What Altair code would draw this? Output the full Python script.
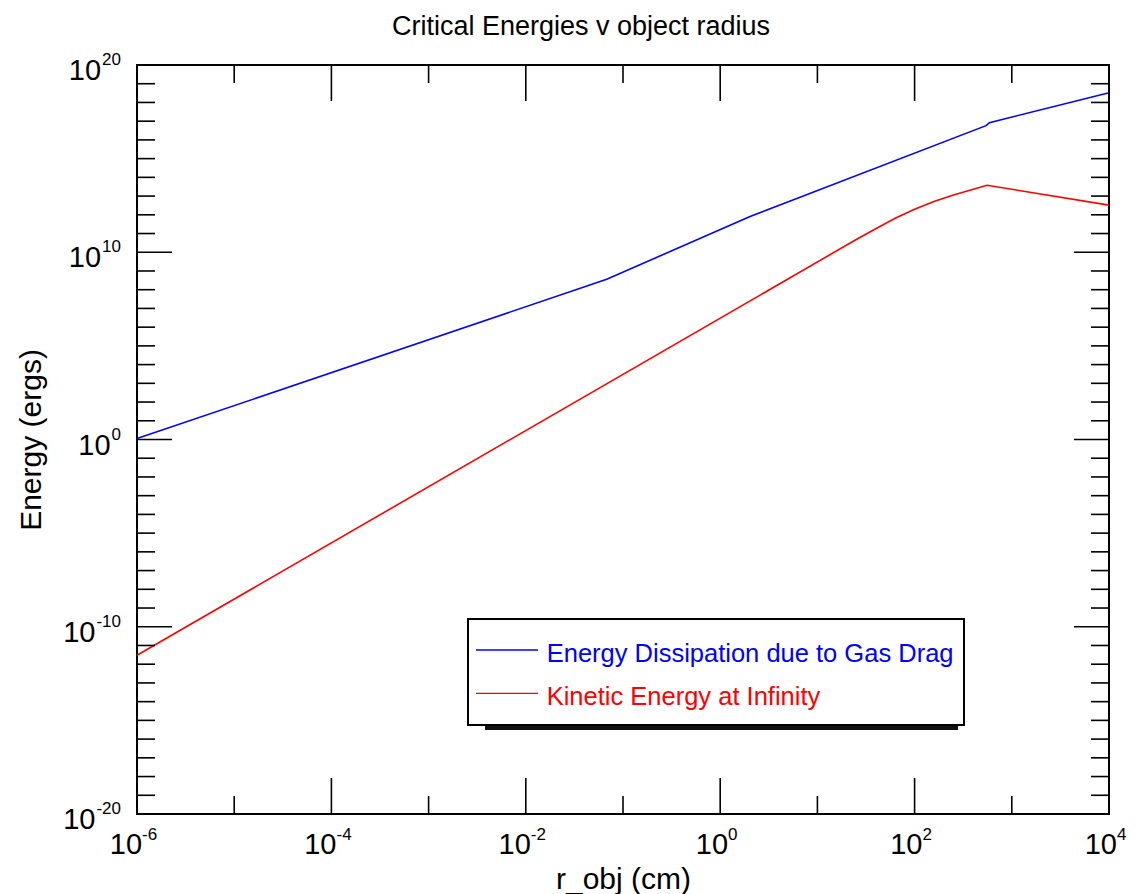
import altair as alt
import pandas as pd

W, H = 972, 749
FONT = "Liberation Sans"

# ---- data ----
blue_r = [1e-6, 0.068, 2.0, 543, 589, 1e4]
blue_E = [1.12, 3.6e8, 7.9e11, 5.75e16, 8.3e16, 3.3e18]
red_r = [1e-6, 25.1, 39.8, 63.1, 100, 158, 251, 556, 1e4]
red_E = [3.0e-12, 4.8e10, 1.8e11, 6.5e11, 2.0e12, 5.1e12, 1.15e13, 3.8e13, 3.3e12]

series_names = ["Energy Dissipation due to Gas Drag", "Kinetic Energy at Infinity"]
series_colors = ["#0000ff", "#ff0000"]
chart_title = "Critical Energies v object radius"

x_label_exp = [-6, -4, -2, 0, 2, 4]
y_label_exp = [-20, -10, 0, 10, 20]
x_major_exp = [-4, -2, 0, 2]
x_minor_exp = [-5, -3, -1, 1, 3]
y_major_exp = [-10, 0, 10]
y_minor_exp = [e for e in range(-19, 20) if e % 10 != 0]

# ---- scales / axes ----
xs = alt.Scale(type="log", domain=[1e-6, 1e4], nice=False)
ys = alt.Scale(type="log", domain=[1e-20, 1e20], nice=False)

x_axis = alt.Axis(labels=False, ticks=False, domain=False, grid=False,
                  title="r_obj (cm)", titleFont=FONT, titleFontSize=30,
                  titleFontWeight="normal", titleColor="black",
                  titleX=W / 2, titleY=74, titleBaseline="alphabetic",
                  titleAlign="center")
y_axis = alt.Axis(labels=False, ticks=False, domain=False, grid=False,
                  title="Energy (ergs)", titleFont=FONT, titleFontSize=30,
                  titleFontWeight="normal", titleColor="black",
                  titleX=-97, titleY=H / 2, titleAngle=270,
                  titleBaseline="alphabetic", titleAlign="center")

layers = []

# ---- curves ----
df_lines = pd.concat([
    pd.DataFrame({"r": blue_r, "E": blue_E, "series": series_names[0]}),
    pd.DataFrame({"r": red_r, "E": red_E, "series": series_names[1]}),
])
layers.append(
    alt.Chart(df_lines).mark_line(strokeWidth=1.6).encode(
        x=alt.X("r:Q", scale=xs, axis=x_axis),
        y=alt.Y("E:Q", scale=ys, axis=y_axis),
        color=alt.Color("series:N", scale=alt.Scale(domain=series_names, range=series_colors),
                        legend=None),
        detail="series:N",
    )
)

# ---- inward ticks ----
def xticks(exps, length):
    df = pd.DataFrame({"v": [10.0 ** e for e in exps]})
    out = []
    for y0, y1 in [(H, H - length), (0, length)]:
        out.append(alt.Chart(df).mark_rule(color="black", strokeWidth=1.6).encode(
            x=alt.X("v:Q", scale=xs, axis=x_axis),
            y=alt.value(y0), y2=alt.value(y1)))
    return out

def yticks(exps, length):
    df = pd.DataFrame({"v": [10.0 ** e for e in exps]})
    out = []
    for x0, x1 in [(0, length), (W, W - length)]:
        out.append(alt.Chart(df).mark_rule(color="black", strokeWidth=1.6).encode(
            y=alt.Y("v:Q", scale=ys, axis=y_axis),
            x=alt.value(x0), x2=alt.value(x1)))
    return out

layers += xticks(x_major_exp, 36) + xticks(x_minor_exp, 18)
layers += yticks(y_major_exp, 35) + yticks(y_minor_exp, 18)

# ---- tick labels: "10" plus superscript exponent ----
BASE_FS, SUP_FS = 29, 17

def text_width(s, fs):
    w = 0.0
    for ch in s:
        w += 0.333 if ch == "-" else 0.556
    return w * fs

w10 = text_width("10", BASE_FS)
for e in x_label_exp:
    sup = str(e)
    dx = 0.5 * (w10 - text_width(sup, SUP_FS)) - 3.5
    df = pd.DataFrame({"v": [10.0 ** e], "base": ["10"], "sup": [sup]})
    layers.append(alt.Chart(df).mark_text(
        align="right", baseline="alphabetic", dx=dx, dy=39.5,
        fontSize=BASE_FS, font=FONT, color="black").encode(
        x=alt.X("v:Q", scale=xs, axis=x_axis), y=alt.value(H), text="base:N"))
    layers.append(alt.Chart(df).mark_text(
        align="left", baseline="alphabetic", dx=dx, dy=26,
        fontSize=SUP_FS, font=FONT, color="black").encode(
        x=alt.X("v:Q", scale=xs, axis=x_axis), y=alt.value(H), text="sup:N"))

for e in y_label_exp:
    sup = str(e)
    df = pd.DataFrame({"v": [10.0 ** e], "base": ["10"], "sup": [sup]})
    layers.append(alt.Chart(df).mark_text(
        align="right", baseline="alphabetic", dx=-16, dy=0,
        fontSize=SUP_FS, font=FONT, color="black").encode(
        y=alt.Y("v:Q", scale=ys, axis=y_axis), x=alt.value(0), text="sup:N"))
    layers.append(alt.Chart(df).mark_text(
        align="right", baseline="alphabetic", dx=-16 - text_width(sup, SUP_FS) - 1, dy=15,
        fontSize=BASE_FS, font=FONT, color="black").encode(
        y=alt.Y("v:Q", scale=ys, axis=y_axis), x=alt.value(0), text="base:N"))

# ---- title ----
layers.append(alt.Chart(pd.DataFrame({"t": [chart_title]})).mark_text(
    align="center", baseline="alphabetic", fontSize=27, font=FONT, color="black").encode(
    x=alt.value(444), y=alt.value(-30), text="t:N"))

# ---- legend box ----
one = pd.DataFrame({"k": [0]})
layers.append(alt.Chart(one).mark_rect(color="#111111").encode(
    x=alt.value(348), x2=alt.value(821), y=alt.value(560), y2=alt.value(665)))
layers.append(alt.Chart(one).mark_rect(fill="white", stroke="black", strokeWidth=2).encode(
    x=alt.value(331), x2=alt.value(827), y=alt.value(554), y2=alt.value(660)))
for i, (name, col) in enumerate(zip(series_names, series_colors)):
    yl = 585 + i * 43.3
    dfl = pd.DataFrame({"name": [name]})
    layers.append(alt.Chart(dfl).mark_rule(color=col, strokeWidth=1.3).encode(
        x=alt.value(339), x2=alt.value(401), y=alt.value(yl)))
    layers.append(alt.Chart(dfl).mark_text(
        align="left", baseline="alphabetic", fontSize=25.5, font=FONT, color=col).encode(
        x=alt.value(409.7), y=alt.value(yl + 11.7), text="name:N"))

chart = alt.layer(*layers).properties(
    width=W, height=H,
    autosize=alt.AutoSizeParams(type="none"),
    padding={"left": 137, "top": 65, "right": 26, "bottom": 80},
).configure(
    background="white",
    view=alt.ViewConfig(stroke="black", strokeWidth=2),
)

chart.save("out.html", embed_options={"renderer": "svg", "actions": False})
